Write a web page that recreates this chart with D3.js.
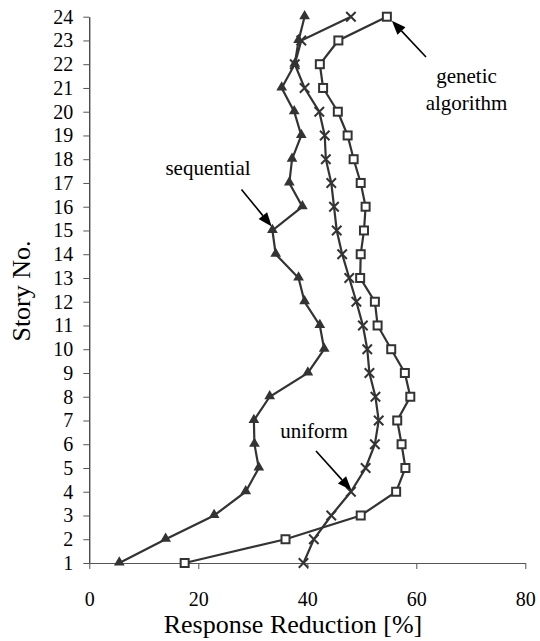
<!DOCTYPE html>
<html>
<head>
<meta charset="utf-8">
<script src="https://cdn.jsdelivr.net/npm/d3@7"></script>
<style>
  html, body { margin: 0; padding: 0; background: #fff; }
</style>
</head>
<body>
<svg id="chart" width="540" height="641" style="font-family: 'Liberation Serif', 'Times New Roman', serif;"></svg>
<script>
// ---- data ----
const stories = [1,2,3,4,5,6,7,8,9,10,11,12,13,14,15,16,17,18,19,20,21,22,23,24];
const sequential = [5.5,14.0,22.9,28.7,31.1,30.3,30.2,33.1,40.1,43.1,42.3,39.5,38.4,34.2,33.6,39.1,36.7,37.2,38.9,37.6,35.3,37.7,38.4,39.5];
const uniform    = [39.3,41.2,44.4,48.0,50.7,52.4,53.1,52.5,51.4,51.0,50.2,49.0,47.7,46.4,45.4,44.9,44.4,43.4,43.2,42.2,39.5,37.7,38.9,48.0];
const genetic    = [17.5,36.0,49.8,56.3,58.0,57.3,56.5,58.9,57.9,55.4,52.9,52.4,49.7,49.8,50.4,50.7,49.8,48.5,47.4,45.6,42.9,42.3,45.7,54.6];
const xTicks = [0,20,40,60,80];
const yTicks = stories;
const xTitle = "Response Reduction [%]";
const yTitle = "Story No.";
// annotations: label lines, the story whose point the arrow targets
const annGenetic = { lines: ["genetic", "algorithm"], story: 24 };
const annSequential = { lines: ["sequential"], story: 15 };
const annUniform = { lines: ["uniform"], story: 4 };

// ---- chart ----
const FONT = "'Liberation Serif', 'Times New Roman', serif";
const svg = d3.select("#chart");
const x = d3.scaleLinear().domain([0, 80]).range([89.3, 525.3]);
const y = d3.scaleLinear().domain([1, 24]).range([563, 16.7]);
const ink = "#333";

function txt(sel) { return sel.attr("font-family", FONT).style("font-family", FONT).attr("fill", "#000"); }

// axes
const gy = svg.append("g").attr("transform", `translate(${x(0)},0)`)
  .call(d3.axisLeft(y).tickValues(yTicks).tickSize(6).tickSizeOuter(0).tickPadding(10));
gy.attr("font-family", FONT);
txt(gy.selectAll("text")).style("font-size", "20px");
gy.select(".domain").attr("stroke", "#000");

const gx = svg.append("g").attr("transform", `translate(0,${y(1)})`)
  .call(d3.axisBottom(x).tickValues(xTicks).tickSize(6).tickSizeOuter(0).tickPadding(23));
gx.attr("font-family", FONT);
txt(gx.selectAll("text")).style("font-size", "20px");
gx.select(".domain").attr("stroke", "#555");
gx.selectAll(".tick line").attr("stroke", "#555");
gy.selectAll(".tick line").attr("stroke", "#555");

txt(svg.append("text")).attr("x", 293).attr("y", 633)
  .attr("text-anchor", "middle").style("font-size", "26px").text(xTitle);
txt(svg.append("text")).attr("transform", `translate(30,291) rotate(-90)`)
  .attr("text-anchor", "middle").style("font-size", "26px").text(yTitle);

// series
const line = d3.line().x(d => x(d[0])).y(d => y(d[1]));
function pts(vals) { return stories.map((s, i) => [vals[i], s]); }

[sequential, uniform, genetic].forEach(vals => {
  svg.append("path").datum(pts(vals)).attr("d", line)
    .attr("fill", "none").attr("stroke", ink).attr("stroke-width", 2.2);
});

// triangles
svg.append("g").selectAll("path").data(pts(sequential)).join("path")
  .attr("transform", d => `translate(${x(d[0])},${y(d[1]) - 0.5})`)
  .attr("d", d3.symbol(d3.symbolTriangle, 50)())
  .attr("fill", ink);

// x marks
svg.append("g").selectAll("path").data(pts(uniform)).join("path")
  .attr("transform", d => `translate(${x(d[0])},${y(d[1])})`)
  .attr("d", d3.symbol(d3.symbolX, 60)())
  .attr("fill", "none").attr("stroke", ink).attr("stroke-width", 2);

// squares
svg.append("g").selectAll("rect").data(pts(genetic)).join("rect")
  .attr("x", d => x(d[0]) - 4).attr("y", d => y(d[1]) - 4)
  .attr("width", 8).attr("height", 8)
  .attr("fill", "#fff").attr("stroke", ink).attr("stroke-width", 2);

// annotations
function arrow(x1, y1, x2, y2) {
  const ang = Math.atan2(y2 - y1, x2 - x1);
  const L = 14, W = 5.5;
  const bx = x2 - L * Math.cos(ang), by = y2 - L * Math.sin(ang);
  svg.append("line").attr("x1", x1).attr("y1", y1).attr("x2", bx).attr("y2", by)
    .attr("stroke", "#000").attr("stroke-width", 1.6);
  const px = -Math.sin(ang) * W, py = Math.cos(ang) * W;
  svg.append("path")
    .attr("d", `M${x2},${y2}L${bx + px},${by + py}L${bx - px},${by - py}Z`)
    .attr("fill", "#000");
}
function label(lines, cx, y0, dy) {
  lines.forEach((t, i) => txt(svg.append("text")).attr("x", cx).attr("y", y0 + i * dy)
    .attr("text-anchor", "middle").style("font-size", "21px").text(t));
}

// genetic algorithm
{
  const s = annGenetic.story, px = x(genetic[s - 1]), py = y(s);
  arrow(426, 57, px + 5, py + 4);
  label(annGenetic.lines, 466.5, 83, 27);
}
// sequential
{
  const s = annSequential.story, px = x(sequential[s - 1]), py = y(s);
  arrow(241.5, 189.5, px - 0.7, py - 4);
  label(annSequential.lines, 208, 175, 27);
}
// uniform
{
  const s = annUniform.story, px = x(uniform[s - 1]), py = y(s);
  arrow(316, 451, px + 0.5, py - 1.5);
  label(annUniform.lines, 314, 437.5, 27);
}
</script>
</body>
</html>
